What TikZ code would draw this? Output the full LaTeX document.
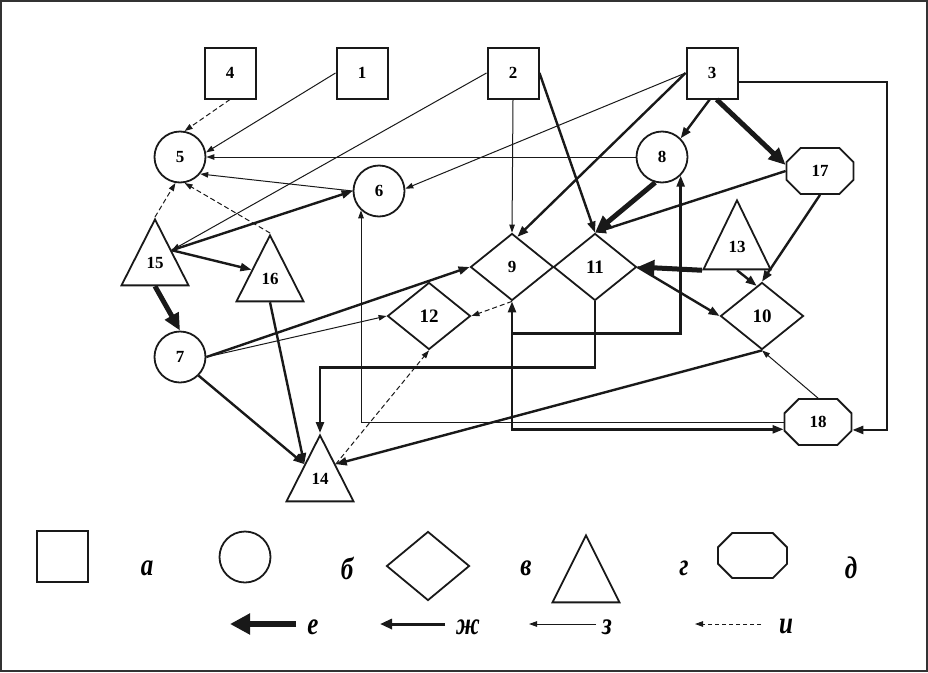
\documentclass[tikz,border=0pt]{standalone}
\usepackage{fontspec}
\setmainfont{Liberation Serif}
\usepackage{graphicx}
\usetikzlibrary{arrows.meta,shapes.geometric,shapes.misc,calc}
\newcommand{\lgtxt}[1]{\scalebox{1}[1.25]{#1}}
\begin{document}
\begin{tikzpicture}[x=1pt,y=-1pt,
  shp/.style={draw=black!90, line width=1.8pt, inner sep=0pt, font=\fontsize{17}{17}\selectfont\bfseries},
  box/.style={shp, rectangle, minimum size=51pt, line width=2pt},
  circ/.style={shp, circle, minimum size=51pt},
  dia/.style={shp, diamond, minimum width=83pt, minimum height=67pt},
  tri/.style={shp, isosceles triangle, shape border rotate=90, isosceles triangle stretches, minimum width=67pt, minimum height=66pt, text depth=7pt},
  oct/.style={shp, chamfered rectangle, chamfered rectangle xsep=10pt, chamfered rectangle ysep=10pt, minimum width=67pt, minimum height=46pt},
  big/.style={font=\fontsize{19}{19}\selectfont\bfseries},
  thn/.style={draw=black!90, line width=1pt, -{Triangle[length=8pt,width=5.5pt]}},
  dsh/.style={thn, dash pattern=on 5pt off 3pt},
  thk/.style={draw=black!90, line width=2.4pt, -{Triangle[length=11pt,width=8pt]}},
  thkb/.style={draw=black!90, line width=2.4pt, {Triangle[length=11pt,width=8pt]}-{Triangle[length=11pt,width=8pt]}},
  vthk/.style={draw=black!90, line width=5pt, -{Triangle[length=17pt,width=15pt]}},
  lg/.style={inner sep=0pt, font=\fontsize{25}{25}\selectfont\bfseries\itshape}
]
\useasboundingbox (0,0) rectangle (928,672);
\draw[black!80, line width=2pt] (1,1) rectangle (927,671);

% squares
\node[box] (b4) at (230,73) {4};
\node[box] (b1) at (362,73) {1};
\node[box] (b2) at (513,73) {2};
\node[box] (b3) at (712,73) {3};
% circles
\node[circ] (c5) at (180,157) {5};
\node[circ] (c6) at (379,191) {6};
\node[circ] (c8) at (662,157) {8};
\node[circ] (c7) at (180,357) {7};
% triangles
\node[tri, anchor=apex] (t15) at (155,217) {15};
\node[tri, anchor=apex] (t16) at (270,233) {16};
\node[tri, anchor=apex] (t14) at (320,433) {14};
\node[tri, anchor=apex, minimum height=69pt] (t13) at (737,198) {13};
% diamonds
\node[dia] (d9) at (512,267) {9};
\node[dia, big] (d11) at (595,267) {11};
\node[dia, big] (d12) at (429,316) {12};
\node[dia, big] (d10) at (762,316) {10};
% octagons
\node[oct] (o17) at (820,171) {17};
\node[oct] (o18) at (818,422) {18};

% helper points on triangle sides
\coordinate (t15r) at ($(t15.apex)!0.48!(t15.right corner)$);
\coordinate (t15b) at ($(t15.left corner)!0.5!(t15.right corner)$);
\coordinate (t16l) at ($(t16.apex)!0.53!(t16.left corner)$);
\coordinate (t16b) at ($(t16.left corner)!0.5!(t16.right corner)$);
\coordinate (t14l) at ($(t14.apex)!0.45!(t14.left corner)$);
\coordinate (t14r) at ($(t14.apex)!0.45!(t14.right corner)$);
\coordinate (t13b) at ($(t13.left corner)!0.5!(t13.right corner)$);
\coordinate (rc) at (887,250);
\coordinate (j3) at ($(d9.south)+(0,32)$);

% thin
\draw[thn] (b1.west) -- (c5.10);
\draw[thn] (c8.west) -- (c5.east);
\draw[thn] (b2.west) -- (t15r);
\draw[thn] (b2.south) -- (d9.north);
\draw[thn] (b3.west) -- (c6.5);
\draw[thn] (c6.west) -- (c5.-40);
\draw[thn] (c7.east) -- (d12.west);
\draw[thn] (o18.north) -- (d10.south);
\draw[thn] (o18.west) -| (c6.-133);

% thick
\draw[thk] (b2.east) -- (d11.north);
\draw[thk] (b3.west) -- (d9.80);
\draw[thk] (b3.-95) -- (c8.45);
\draw[thk] (b3.-19) -| (rc) |- (o18.-13);
\draw[thk] (t15r) -- (c6.west);
\draw[thk] (t15r) -- (t16l);
\draw[thk] (o17.west) -- (d11.north);
\draw[thk] (o17.south) -- (d10.north);
\draw[thk] (d11.east) -- (d10.west);
\draw[thk] (c7.east) -- (d9.west);
\draw[thk] (c7.-45) -- (t14l);
\draw[thk] (t16b) -- (t14l);
\draw[thk] (d11.south) -- ++(0,66) -| (t14.apex);
\draw[thkb] (d9.south) |- (o18.-168);
\draw[thk] (j3) -| (c8.-45);
\draw[thk] (d10.south) -- (t14r);
\draw[thk] (t13b) -- (d10.100);

% very thick
\draw[vthk] (b3.-80) -- (o17.170);
\draw[vthk] (c8.-105) -- (d11.north);
\draw[vthk] (t13.left corner) -- (d11.east);
\draw[vthk] (t15b) -- (c7.north);

% dashed
\draw[dsh] (b4.south) -- (c5.80);
\draw[dsh] (t15.apex) -- (c5.-100);
\draw[dsh] (t16.apex) -- (c5.-80);
\draw[dsh] (d9.south) -- (d12.east);
\draw[dsh] (t14r) -- (d12.south);

% legend shapes
\node[box] (la) at (62.5,556.5) {};
\node[circ] (lb) at (245,557) {};
\node[dia, minimum height=69pt] (lc) at (428,566) {};
\node[tri, anchor=apex, minimum height=67pt] (ld) at (586,533) {};
\node[oct, minimum width=69pt, minimum height=45pt] (le) at (752.5,555.5) {\phantom{18}};
\node[lg] (lta) at (147,568) {\lgtxt{а}};
\node[lg] (ltb) at (347,568) {\lgtxt{б}};
\node[lg] (ltc) at (526,568) {\lgtxt{в}};
\node[lg] (ltd) at (684,568) {\lgtxt{г}};
\node[lg] (lte) at (851,568) {\lgtxt{д}};

% legend arrows
\coordinate (ea) at (296,624); \coordinate (eb) at (230,624);
\coordinate (fa) at (445,624); \coordinate (fb) at (380,624);
\coordinate (ga) at (596,624); \coordinate (gb) at (529,624);
\coordinate (ha) at (761,624); \coordinate (hb) at (695,624);
\draw[draw=black!90, line width=6pt, -{Triangle[length=20pt,width=20pt]}] (ea) -- (eb);
\draw[draw=black!90, line width=3pt, -{Triangle[length=12pt,width=10pt]}] (fa) -- (fb);
\draw[thn] (ga) -- (gb);
\draw[thn, dash pattern=on 4pt off 3pt] (ha) -- (hb);
\node[lg] (ltf) at (313,627) {\lgtxt{е}};
\node[lg] (ltg) at (468,627) {\lgtxt{ж}};
\node[lg] (lth) at (607,627) {\lgtxt{з}};
\node[lg] (lti) at (786,627) {\lgtxt{и}};
\end{tikzpicture}
\end{document}
